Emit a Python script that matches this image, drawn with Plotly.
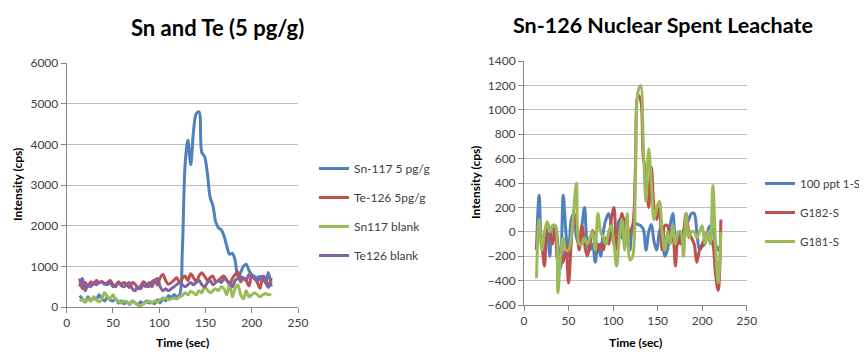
import plotly.graph_objects as go

# sampling times (sec), shared by all series
time_sec = [14, 17, 20, 23, 26, 29, 32, 35, 38, 41,
            44, 47, 50, 53, 56, 59, 62, 65, 68, 71,
            74, 77, 80, 83, 86, 89, 92, 95, 98, 101,
            104, 107, 110, 113, 116, 119, 122, 125, 128, 131,
            134, 137, 140, 143, 146, 149, 152, 155, 158, 161,
            164, 167, 170, 173, 176, 179, 182, 185, 188, 191,
            194, 197, 200, 203, 206, 209, 212, 215, 218, 221]

# left chart: Sn and Te (5 pg/g)
sn117_5pg = [280, 200, 120, 250, 150, 230, 180, 300, 200, 150,
             250, 170, 150, 200, 100, 150, 80, 130, 60, 150,
             100, 50, 130, 80, 150, 100, 120, 80, 180, 100,
             220, 150, 280, 230, 300, 250, 300, 1400, 3500, 4100,
             3500, 4300, 4750, 4800, 3800, 3700, 3300, 2700, 2500, 2100,
             1950, 1900, 1750, 1500, 1300, 1320, 1150, 750, 850, 1000,
             1050, 900, 800, 750, 720, 750, 680, 600, 850, 500]
te126_5pg = [700, 450, 600, 500, 620, 550, 650, 600, 620, 560,
             600, 650, 550, 500, 620, 560, 600, 540, 480, 600,
             560, 450, 520, 620, 560, 500, 620, 660, 540, 720,
             800, 650, 560, 600, 660, 720, 600, 700, 760, 650,
             820, 720, 620, 760, 840, 760, 660, 720, 760, 620,
             660, 720, 760, 660, 560, 700, 800, 860, 620, 720,
             660, 520, 760, 700, 600, 460, 760, 700, 480, 720]
sn117_blank = [150, 180, 120, 200, 150, 250, 180, 120, 200, 350,
               250, 200, 300, 180, 150, 100, 150, 120, 80, 150,
               100, 50, 30, 80, 120, 150, 100, 150, 120, 180,
               200, 220, 180, 200, 220, 200, 250, 280, 350, 300,
               380, 350, 300, 400, 350, 500, 420, 350, 400, 450,
               400, 500, 450, 300, 600, 250, 450, 550, 300, 200,
               400, 250, 300, 350, 300, 250, 300, 330, 300, 320]
te126_blank = [500, 700, 400, 550, 500, 600, 550, 600, 620, 580,
               550, 600, 500, 550, 600, 520, 500, 560, 600, 450,
               400, 500, 450, 550, 500, 600, 500, 650, 700, 500,
               400, 450, 400, 450, 500, 550, 600, 550, 500, 550,
               600, 550, 600, 650, 550, 500, 600, 650, 550, 600,
               650, 600, 700, 650, 600, 500, 650, 700, 750, 700,
               650, 800, 750, 700, 650, 700, 750, 600, 500, 650]

# right chart: Sn-126 Nuclear Spent Leachate
ppt100_1s = [-150, 300, -100, -150, 50, -200, 50, 50, -100, -300,
             300, 0, -200, 100, 150, -50, -100, 50, 200, -100,
             -150, -100, -250, -100, -200, 0, 100, 150, 50, -100,
             0, 100, -50, 100, 50, -150, 50, 70, 60, 50,
             20, -150, 0, 60, -80, -150, 0, 50, -200, -150,
             50, 150, -50, -100, 0, -100, 50, 100, 150, 150,
             0, -150, -120, -100, 0, 50, 20, -100, -150, -100]
g182_s = [-150, 50, -100, -280, 80, 0, -100, 50, -250, -200,
          -250, -100, -420, -100, 150, 50, -150, 50, -100, -200,
          -100, 10, -50, -150, -100, -150, -50, -100, 100, 200,
          -150, 0, 150, 50, -100, 0, 50, 500, 1120, 1080,
          600, 500, 200, 530, 200, 100, 200, -150, 50, 50,
          -100, 0, -280, -50, -100, 0, 150, 0, -50, -100,
          -250, -150, -100, -50, 0, -50, -100, -350, -480, 100]
g181_s = [-380, 100, -150, 0, 80, 0, 50, 50, -500, -200,
          -50, -150, -150, -50, 200, 400, -100, -100, -50, -100,
          -50, 0, -150, 150, 0, -50, -100, 0, 50, -100,
          -280, -50, 100, -150, 150, -230, -200, 400, 1150, 1200,
          700, 250, 680, 400, 100, 200, 250, 0, -150, 0,
          -100, 50, -100, 0, 0, -200, 150, -50, 0, 0,
          -50, 0, 50, -100, 0, -100, 380, -100, -420, 0]

BLUE, RED, GREEN, PURPLE = "#4F81BD", "#C0504D", "#9BBB59", "#8064A2"
FONT = "Lato, 'Open Sans', sans-serif"

fig = go.Figure()

left = [("Sn-117 5 pg/g", sn117_5pg, BLUE), ("Te-126 5pg/g", te126_5pg, RED),
        ("Sn117 blank", sn117_blank, GREEN), ("Te126 blank", te126_blank, PURPLE)]
for i, (name, vals, col) in enumerate(left):
    fig.add_trace(go.Scatter(x=time_sec, y=vals, name=name, mode="lines",
                             line=dict(color=col, width=3, shape="spline"),
                             xaxis="x", yaxis="y", legend="legend",
                             legendgroup="l%d" % i))

right = [("100 ppt 1-S", ppt100_1s, BLUE), ("G182-S", g182_s, RED), ("G181-S", g181_s, GREEN)]
for i, (name, vals, col) in enumerate(right):
    fig.add_trace(go.Scatter(x=time_sec, y=vals, name=name, mode="lines",
                             line=dict(color=col, width=3, shape="spline"),
                             xaxis="x2", yaxis="y2", legend="legend2",
                             legendgroup="r%d" % i))

# the page body keeps an 8px margin, so the figure is sized to sit inside it
M = 8
W, H = 867 - 2 * M, 358 - 2 * M


def px(x):
    return (x - M) / W


def py(y):
    return (H - (y - M)) / H


axis_common = dict(showline=True, linecolor="#868686", linewidth=1,
                   ticks="outside", ticklen=5, tickcolor="#868686",
                   tickfont=dict(family=FONT, size=12, color="#404040"),
                   zeroline=False, automargin=False)

fig.update_layout(
    width=W, height=H,
    margin=dict(l=0, r=0, t=0, b=0, autoexpand=False),
    paper_bgcolor="white", plot_bgcolor="white",
    font=dict(family=FONT),
    xaxis=dict(domain=[px(66.7), px(298)], range=[0, 250], dtick=50,
               showgrid=False, anchor="y", **axis_common),
    yaxis=dict(domain=[py(307), py(63)], range=[0, 6000], dtick=1000,
               showgrid=True, gridcolor="#BFBFBF", gridwidth=1.2, anchor="x",
               **axis_common),
    xaxis2=dict(domain=[px(524), px(746.7)], range=[0, 250], dtick=50,
                showgrid=False, anchor="y2", **axis_common),
    yaxis2=dict(domain=[py(305), py(61)], range=[-600, 1400], dtick=200,
                showgrid=True, gridcolor="#BFBFBF", gridwidth=1.2, anchor="x2",
                **axis_common),
    legend=dict(x=px(314), y=py(154), xanchor="left", yanchor="top",
                font=dict(family=FONT, size=12, color="#404040"),
                traceorder="grouped", tracegroupgap=10, itemwidth=30,
                bgcolor="rgba(0,0,0,0)"),
    legend2=dict(x=px(760), y=py(169), xanchor="left", yanchor="top",
                 font=dict(family=FONT, size=11.5, color="#404040"),
                 traceorder="grouped", tracegroupgap=10, itemwidth=30,
                 bgcolor="rgba(0,0,0,0)"),
    showlegend=True,
)

annots = [
    dict(text="<b>Sn and Te (5 pg/g)</b>", x=217, y=27, size=22),
    dict(text="<b>Sn-126 Nuclear Spent Leachate</b>", x=663, y=25, size=21.5),
    dict(text="<b>Time (sec)</b>", x=182, y=342, size=12),
    dict(text="<b>Time (sec)</b>", x=635, y=342, size=12),
]
for a in annots:
    fig.add_annotation(text=a["text"], x=px(a["x"]), y=py(a["y"]), xref="paper", yref="paper",
                       xanchor="center", yanchor="middle", showarrow=False,
                       font=dict(family=FONT, size=a["size"], color="#000000"))
for xp, yp in [(17, 185), (475, 183)]:
    fig.add_annotation(text="<b>Intensity (cps)</b>", x=px(xp), y=py(yp),
                       xref="paper", yref="paper", textangle=-90,
                       xanchor="center", yanchor="middle", showarrow=False,
                       font=dict(family=FONT, size=12, color="#000000"))

fig.write_html("out.html")
